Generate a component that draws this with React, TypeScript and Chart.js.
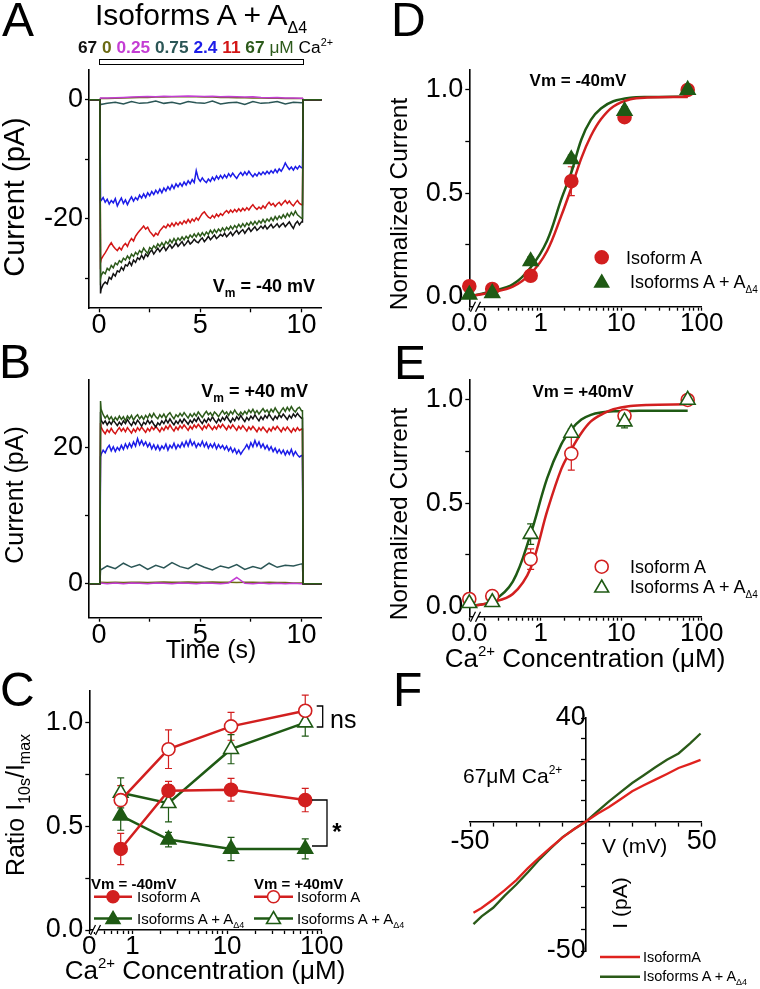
import React, { useEffect, useLayoutEffect, useRef } from 'react';
import { Chart, registerables } from 'chart.js';

Chart.register(...registerables);
const FONT = "'Liberation Sans', Arial, Helvetica, sans-serif";
Chart.defaults.font.family = FONT;
Chart.defaults.color = '#000';

// ---------------- Panels A & B: current traces ----------------
const TIME = [-0.5, 0.04, 0.07,
  0.1, 0.2, 0.3, 0.4, 0.5, 0.6, 0.7, 0.8, 0.9, 1.0,
  1.1, 1.2, 1.3, 1.4, 1.5, 1.6, 1.7, 1.8, 1.9, 2.0,
  2.1, 2.2, 2.3, 2.4, 2.5, 2.6, 2.7, 2.8, 2.9, 3.0,
  3.1, 3.2, 3.3, 3.4, 3.5, 3.6, 3.7, 3.8, 3.9, 4.0,
  4.1, 4.2, 4.3, 4.4, 4.5, 4.6, 4.7, 4.8, 4.9, 5.0,
  5.1, 5.2, 5.3, 5.4, 5.5, 5.6, 5.7, 5.8, 5.9, 6.0,
  6.1, 6.2, 6.3, 6.4, 6.5, 6.6, 6.7, 6.8, 6.9, 7.0,
  7.1, 7.2, 7.3, 7.4, 7.5, 7.6, 7.7, 7.8, 7.9, 8.0,
  8.1, 8.2, 8.3, 8.4, 8.5, 8.6, 8.7, 8.8, 8.9, 9.0,
  9.1, 9.2, 9.3, 9.4, 9.5, 9.6, 9.7, 9.8, 9.9, 10.0,
  10.05, 10.08, 11.0];
const TIME_FLAT = [-0.5, 0.04, 0.07, 0.4, 0.8, 1.2, 1.6, 2.0, 2.4, 2.8, 3.2, 3.6, 4.0, 4.4, 4.8,
  5.2, 5.6, 6.0, 6.4, 6.8, 7.2, 7.6, 8.0, 8.4, 8.8, 9.2, 9.6, 10.0, 10.05, 10.08, 11.0];

// Vm = -40 mV (pA)
const A_67_FIRST = [0, 0, -32.5,
  -31.8, -31.0, -30.6, -30.9, -29.8, -30.1, -29.2, -29.6, -28.7, -28.9,
  -28.1, -28.6, -27.7, -27.9, -27.2, -27.8, -26.9, -27.3, -26.5, -26.8,
  -26.1, -26.7, -25.9, -26.3, -25.6, -25.2, -25.9, -25.4, -24.9, -25.5,
  -25.0, -24.6, -25.3, -24.8, -24.3, -24.9, -24.5, -24.0, -24.6, -24.2,
  -23.8, -24.5, -24.1, -23.6, -24.2, -23.9, -23.4, -23.8, -24.0, -23.5,
  -23.2, -23.8, -23.4, -22.9, -23.5, -23.1, -22.7, -23.3, -23.0, -22.6,
  -22.9, -22.4, -23.0, -22.6, -22.2, -22.8, -22.3, -21.9, -22.5, -22.1,
  -21.8, -22.4, -21.9, -21.5, -22.1, -21.7, -21.3, -21.9, -21.6, -21.2,
  -21.6, -21.1, -21.7, -21.3, -20.9, -21.5, -21.2, -20.8, -21.4, -21.0,
  -20.7, -21.3, -20.9, -20.5, -21.1, -21.6, -20.8, -20.4, -21.0, -20.5,
  -20.5, 0, 0];
const A_67_LAST = [0, 0, -30.0,
  -29.5, -28.9, -29.2, -28.3, -28.6, -27.8, -28.2, -27.4, -27.7, -27.0,
  -27.3, -26.6, -26.9, -26.2, -26.7, -25.9, -26.3, -25.6, -26.0, -25.3,
  -25.7, -24.9, -25.4, -25.8, -24.8, -25.1, -24.5, -24.9, -24.2, -24.6,
  -24.0, -24.5, -23.8, -24.2, -23.5, -24.0, -23.3, -23.8, -23.2, -23.6,
  -23.0, -23.5, -22.9, -23.3, -22.7, -23.1, -22.5, -23.0, -22.4, -22.9,
  -22.3, -22.8, -22.2, -22.6, -21.9, -22.4, -21.8, -22.3, -21.7, -22.1,
  -21.5, -22.0, -21.4, -21.8, -21.2, -21.7, -21.1, -21.5, -20.9, -21.4,
  -20.8, -21.3, -20.7, -21.1, -20.5, -21.0, -20.4, -20.9, -20.3, -20.7,
  -20.1, -20.6, -20.0, -20.4, -19.8, -20.3, -19.6, -20.1, -19.5, -19.9,
  -19.3, -19.8, -19.1, -19.6, -18.9, -19.4, -18.7, -19.3, -19.6, -19.9,
  -19.9, 0, 0];
const A_11 = [0, 0, -27.3,
  -26.8, -26.2, -25.7, -25.1, -24.5, -24.0, -24.6, -25.0, -25.3, -24.8,
  -25.2, -24.5, -24.1, -24.6, -23.8, -23.3, -23.7, -22.9, -22.4, -22.0,
  -21.6, -21.2, -21.7, -21.4, -22.1, -22.5, -22.9, -22.4, -22.7, -22.0,
  -21.6, -21.2, -21.5, -20.9, -21.3, -20.7, -21.2, -20.6, -21.0, -20.5,
  -20.9, -20.3, -20.7, -20.1, -20.6, -20.0, -20.4, -19.8, -20.2, -19.6,
  -19.1, -18.8, -19.3, -19.7, -19.9, -19.4, -19.8, -19.2, -19.6, -19.1,
  -19.4, -18.9, -18.6, -19.0, -18.5, -18.9, -18.4, -18.8, -18.3, -18.7,
  -18.2, -18.6, -18.1, -18.5, -18.0, -17.6, -18.1, -18.4, -18.0, -18.3,
  -17.8, -18.2, -17.6, -17.2, -17.7, -17.4, -17.9, -17.5, -17.2, -17.7,
  -17.3, -16.9, -17.4, -17.0, -17.5, -17.8, -17.3, -16.9, -17.4, -17.6,
  -17.6, 0, 0];
const A_24 = [0, 0, -17.0,
  -16.9, -16.4, -17.2, -16.7, -17.5, -16.9, -17.3, -16.6, -17.8, -17.1,
  -16.5, -17.4, -16.8, -17.6, -16.9, -16.3, -17.0, -16.4, -16.8, -16.0,
  -16.5, -15.8, -16.4, -15.6, -16.1, -15.4, -15.9, -15.2, -15.7, -15.0,
  -15.6, -14.8, -15.3, -14.6, -15.1, -14.3, -14.9, -14.1, -14.6, -14.0,
  -14.5, -13.8, -14.3, -13.6, -14.1, -13.4, -13.9, -11.9, -13.2, -13.7,
  -13.1, -13.6, -13.9, -13.3, -13.7, -13.0, -13.5, -12.8, -13.3, -12.7,
  -13.2, -12.6, -13.1, -12.4, -12.9, -12.3, -12.8, -13.2, -12.6, -12.2,
  -12.7, -12.1, -12.6, -12.0, -12.5, -12.9, -12.4, -12.8, -12.2, -12.6,
  -12.1, -12.5, -12.0, -12.4, -11.9, -12.3, -11.7, -12.2, -11.6, -12.0,
  -11.4, -10.6, -11.2, -11.7, -11.3, -11.8, -11.2, -11.6, -11.1, -11.4,
  -11.4, 0, 0];
const A_075 = [0, 0, -0.8, -0.6, -0.4, -0.7, -0.3, -0.6, -0.5, -0.2, -0.6, -0.4, -0.7, -0.3, -0.5,
  -0.6, -0.2, -0.7, -0.5, -0.4, -0.8, -0.3, -0.6, -0.5, -0.3, -0.7, -0.4, -0.5, -0.5, 0, 0];
const A_025 = [0, 0, 0.3, 0.3, 0.35, 0.4, 0.45, 0.5, 0.55, 0.5, 0.6, 0.55, 0.6, 0.65, 0.6, 0.55,
  0.6, 0.5, 0.55, 0.5, 0.45, 0.5, 0.4, 0.35, 0.4, 0.3, 0.3, 0.25, 0.25, 0, 0];
const A_0 = [0, 0, 0.2, 0.2, 0.25, 0.3, 0.35, 0.4, 0.4, 0.45, 0.45, 0.5, 0.5, 0.5, 0.5, 0.45,
  0.45, 0.4, 0.4, 0.35, 0.35, 0.3, 0.3, 0.25, 0.25, 0.2, 0.2, 0.2, 0.2, 0, 0];

// Vm = +40 mV (pA)
const B_67_FIRST = [0, 0, 25.2,
  24.0, 23.5, 23.9, 23.3, 23.8, 23.4, 24.0, 23.6, 23.2, 23.7,
  23.3, 23.9, 23.5, 24.1, 23.6, 23.2, 23.8, 23.4, 24.0, 23.6,
  23.1, 23.7, 23.4, 24.0, 23.5, 23.9, 23.4, 23.0, 23.6, 23.3,
  23.9, 23.5, 24.1, 23.6, 24.2, 23.7, 23.3, 23.9, 23.5, 24.1,
  23.6, 24.2, 23.8, 23.4, 24.0, 23.6, 24.2, 23.8, 24.4, 23.9,
  23.5, 24.1, 23.7, 24.3, 23.9, 24.5, 24.0, 23.6, 24.2, 23.8,
  24.4, 24.0, 24.6, 24.1, 23.7, 24.3, 23.9, 24.5, 24.1, 24.7,
  24.2, 23.8, 24.4, 24.0, 24.6, 24.2, 24.8, 24.3, 23.9, 24.5,
  24.1, 24.7, 24.3, 24.9, 24.4, 24.0, 24.6, 24.2, 24.8, 24.4,
  24.9, 24.5, 24.1, 24.7, 24.3, 24.9, 24.5, 25.0, 24.6, 24.3,
  24.3, 0, 0];
const B_67_LAST = [0, 0, 26.8,
  25.6, 24.8, 24.3, 24.7, 24.1, 24.5, 23.9, 24.4, 24.0, 24.6,
  24.1, 24.5, 23.9, 24.6, 24.2, 24.7, 24.0, 24.5, 24.8, 24.2,
  24.6, 24.1, 24.7, 24.3, 24.9, 24.4, 25.0, 24.5, 24.2, 24.8,
  24.4, 24.9, 24.3, 24.8, 25.1, 24.6, 24.2, 24.8, 24.5, 25.0,
  24.6, 25.1, 24.7, 24.3, 24.9, 24.5, 25.0, 24.6, 25.2, 24.8,
  24.4, 24.9, 25.3, 24.8, 25.1, 24.6, 25.2, 24.9, 24.5, 25.0,
  25.4, 24.9, 25.2, 24.7, 25.3, 24.9, 25.5, 25.0, 24.7, 25.2,
  24.8, 25.3, 24.9, 25.5, 25.1, 25.6, 25.0, 25.4, 24.9, 25.3,
  25.7, 25.2, 25.5, 25.0, 25.6, 25.2, 25.8, 25.3, 24.9, 25.4,
  25.8, 25.3, 25.9, 25.4, 26.0, 25.5, 25.2, 25.7, 25.9, 25.4,
  25.4, 0, 0];
const B_11 = [0, 0, 23.6,
  23.0, 22.4, 22.0, 22.6, 22.2, 22.8, 22.3, 22.0, 22.5, 22.9,
  22.4, 22.8, 22.3, 22.9, 22.5, 22.1, 22.7, 22.3, 22.9, 22.5,
  23.0, 22.6, 22.2, 22.8, 22.4, 23.0, 22.6, 23.1, 22.7, 22.3,
  22.9, 22.5, 23.1, 22.7, 23.3, 22.8, 22.4, 23.0, 22.6, 23.2,
  22.8, 23.3, 22.9, 22.5, 23.1, 22.7, 23.3, 22.9, 23.4, 23.0,
  22.6, 23.2, 22.8, 23.4, 23.0, 22.6, 23.1, 22.7, 23.3, 22.9,
  23.4, 23.0, 22.6, 23.2, 22.8, 23.3, 22.9, 22.5, 23.1, 22.7,
  23.2, 22.8, 22.4, 23.0, 22.6, 23.1, 22.7, 22.3, 22.9, 22.5,
  23.0, 22.6, 22.2, 22.8, 22.4, 23.0, 22.6, 23.1, 22.7, 22.3,
  22.9, 22.5, 23.0, 22.6, 22.2, 22.8, 22.4, 22.9, 22.5, 22.7,
  22.7, 0, 0];
const B_24 = [0, 0, 18.6,
  19.0, 19.6, 19.2, 19.9, 20.3, 19.5, 20.1, 19.4, 20.0, 19.6,
  20.3, 19.7, 20.5, 19.9, 20.6, 20.0, 20.8, 20.2, 21.3, 20.4,
  21.0, 20.3, 20.8, 20.1, 20.6, 19.8, 20.4, 19.7, 20.3, 19.6,
  20.2, 19.8, 20.5, 19.6, 20.3, 19.9, 20.6, 19.8, 20.4, 20.0,
  20.7, 20.1, 20.9, 20.2, 21.1, 20.3, 20.8, 20.0, 20.6, 20.2,
  20.9, 20.1, 20.7, 19.9, 20.5, 20.0, 20.6, 19.8, 20.4, 19.9,
  20.3, 19.7, 20.2, 19.5, 20.0, 19.3, 19.8, 19.1, 19.6, 19.0,
  19.5, 19.9, 20.4, 19.8, 20.7, 20.1, 21.0, 20.2, 20.8, 20.0,
  20.5, 19.8, 20.3, 19.6, 20.1, 19.4, 19.9, 19.2, 19.7, 19.1,
  19.6, 18.9, 19.5, 19.0, 19.7, 18.8, 19.4, 18.9, 18.6, 18.8,
  18.8, 0, 0];
const B_075 = [0, 0, 2.0, 2.6, 2.2, 3.0, 2.4, 2.8, 2.1, 2.7, 2.3, 3.1, 2.5, 2.2, 2.9, 2.4, 2.0,
  2.6, 2.3, 2.8, 2.1, 2.5, 2.2, 3.0, 2.4, 2.7, 2.6, 2.9, 2.9, 0, 0];
const B_025 = [0, 0, 0.1, 0.0, 0.1, 0.0, 0.1, 0.05, 0.0, 0.1, 0.05, 0.0, 0.1, 0.05, 0.0, 0.1,
  0.05, 0.0, 0.1, 0.9, 0.05, 0.0, 0.1, 0.0, 0.05, 0.0, 0.05, 0.0, 0.0, 0, 0];
const B_0 = [0, 0, 0.2, 0.15, 0.2, 0.15, 0.2, 0.2, 0.15, 0.2, 0.25, 0.2, 0.2, 0.25, 0.2, 0.2,
  0.25, 0.2, 0.2, 0.15, 0.2, 0.2, 0.15, 0.2, 0.15, 0.15, 0.1, 0.1, 0.1, 0, 0];

// ---------------- Panel C: ratio I10s/Imax ----------------
const C_CONC = [0.75, 2.4, 11, 67];
const C_A_NEG = [0.39, 0.67, 0.675, 0.625];
const C_A_NEG_ERR = [0.075, 0.045, 0.055, 0.056];
const C_AD4_NEG = [0.55, 0.435, 0.39, 0.39];
const C_AD4_NEG_ERR = [0.07, 0.035, 0.056, 0.048];
const C_A_POS = [0.625, 0.87, 0.98, 1.055];
const C_A_POS_ERR = [0.07, 0.093, 0.067, 0.075];
const C_AD4_POS = [0.66, 0.61, 0.87, 0.998];
const C_AD4_POS_ERR = [0.072, 0.09, 0.07, 0.065];

// ---------------- Panels D & E: dose-response ----------------
const DE_CONC = [0, 0.25, 0.75, 2.4, 11, 67];
const D_A = [0.049, 0.036, 0.10, 0.558, 0.868, 1.0];
const D_A_ERR = [0, 0, 0.01, 0.07, 0.025, 0.01];
const D_AD4 = [0.008, 0.016, 0.17, 0.664, 0.898, 1.0];
const D_AD4_ERR = [0, 0, 0.02, 0.02, 0.02, 0.01];
const E_A = [0.036, 0.05, 0.229, 0.74, 0.923, 1.0];
const E_A_ERR = [0, 0, 0.05, 0.08, 0.02, 0];
const E_AD4 = [0.015, 0.02, 0.35, 0.84, 0.895, 1.0];
const E_AD4_ERR = [0, 0, 0.05, 0.02, 0.03, 0];

const FIT_CONC = [0.13, 0.25, 0.45, 0.75, 1.2, 1.8, 2.4, 3.2, 4.2, 5.6, 8, 13, 21, 67];
const D_FIT_A = [0.0, 0.02, 0.047, 0.11, 0.22, 0.39, 0.525, 0.67, 0.777, 0.858, 0.92, 0.955, 0.963, 0.966];
const D_FIT_AD4 = [0.0, 0.025, 0.058, 0.14, 0.27, 0.47, 0.6, 0.76, 0.855, 0.91, 0.945, 0.962, 0.966, 0.968];
const E_FIT_A = [0.0, 0.02, 0.06, 0.185, 0.46, 0.665, 0.76, 0.84, 0.896, 0.928, 0.955, 0.971, 0.976, 0.979];
const E_FIT_AD4 = [0.0, 0.025, 0.12, 0.35, 0.62, 0.785, 0.857, 0.905, 0.928, 0.939, 0.945, 0.947, 0.948, 0.948];

// ---------------- Panel F: I-V ----------------
const F_V = [-48.5, -45, -40, -35, -30, -25, -20, -15, -10, -5, 0, 5, 10, 15, 20, 25, 30, 35, 40, 45, 49.5];
const F_I_A = [-35.2, -33.4, -30.1, -26.5, -22.6, -18.0, -13.8, -9.9, -6.1, -2.9, 0, 3.0, 5.6, 8.6, 11.7, 14.0, 16.2, 18.4, 20.7, 22.3, 23.8];
const F_I_AD4 = [-39.6, -36.6, -33.3, -28.6, -24.3, -19.6, -14.6, -10.2, -6.0, -2.9, 0, 3.9, 7.8, 11.4, 14.9, 17.9, 21.0, 23.9, 26.3, 30.2, 34.0];

// ---------------- Axis ticks ----------------
const T_TICKS = [0, 2.5, 5, 7.5, 10];
const T_LABELS: [number, string][] = [[0, '0'], [5, '5'], [10, '10']];
const A_Y_TICKS = [-30, -20, -10, 0];
const A_Y_LABELS: [number, string][] = [[-20, '-20'], [0, '0']];
const B_Y_TICKS = [0, 10, 20];
const B_Y_LABELS: [number, string][] = [[0, '0'], [20, '20']];
const N_Y_TICKS = [0, 0.25, 0.5, 0.75, 1.0];
const N_Y_LABELS: [number, string][] = [[0, '0.0'], [0.5, '0.5'], [1.0, '1.0']];
const C_XMIN = -0.457;
const DE_XMIN = -0.887;
const DECADE_MINORS = [0.2, 0.3, 0.4, 0.5, 0.6, 0.7, 0.8, 0.9, 2, 3, 4, 5, 6, 7, 8, 9, 20, 30, 40, 50, 60, 70, 80, 90];
const F_X_TICKS = [-50, -40, -30, -20, -10, 0, 10, 20, 30, 40, 50];
const F_X_LABELS: [number, string][] = [[-50, '-50'], [50, '50']];
const F_Y_TICKS = [-50, -41.7, -33.3, -25, -16.7, -8.3, 0, 8, 16, 24, 32, 40];
const F_Y_LABELS: [number, string][] = [[-50, '-50'], [40, '40']];

// ---------------- Styling ----------------
const RED = '#d21f1f';
const GREEN = '#1f5a14';
const TR = { black: '#111111', olive: '#6b6a12', magenta: '#c43dd4', teal: '#2b5656', blue: '#1c1ce8', red: '#d31515', green: '#2c5a1a' };
const F_RED = '#e0221e';
const F_GREEN = '#2a5a18';

const AREA_A = { l: 89, r: 321.7, t: 70, b: 308.3 };
const AREA_B = { l: 89, r: 321.7, t: 379.3, b: 617.7 };
const AREA_C = { l: 89.3, r: 321.7, t: 691, b: 930 };
const AREA_D = { l: 469.3, r: 701.7, t: 69.3, b: 306.7 };
const AREA_E = { l: 469.3, r: 701.7, t: 379.3, b: 616.7 };
const AREA_F = { l: 470, r: 701.7, t: 718, b: 951 };

const logX = (c: number, min: number) => (c === 0 ? min : Math.log10(c));
const labelOf = (pairs: [number, string][], v: number) => {
  const p = pairs.find((q) => Math.abs(q[0] - v) < 1e-6);
  return p ? p[1] : '';
};

function sc(kind: 'x' | 'y', min: number, max: number, ticks: number[], labels: [number, string][], size = 27, extra: any = {}) {
  const isX = kind === 'x';
  return {
    type: 'linear', min, max, position: isX ? 'bottom' : 'left',
    afterBuildTicks: (s: any) => { s.ticks = ticks.map((v) => ({ value: v })); },
    afterFit: (s: any) => { if (isX) s.height = 30; else s.width = 60; },
    ticks: {
      autoSkip: false, maxRotation: 0, minRotation: 0, padding: isX ? 0 : 2, color: '#000',
      font: { size, lineHeight: 1 }, callback: (v: any) => labelOf(labels, Number(v)),
    },
    grid: { display: true, drawOnChartArea: false, drawTicks: true, tickLength: 4, tickWidth: 1.3, tickColor: '#000' },
    border: { display: true, color: '#000', width: 1.6 },
    ...extra,
  };
}

function base(area: any, scales: any, positioned = false) {
  return {
    responsive: false, animation: false, devicePixelRatio: 1, events: [],
    layout: {
      padding: positioned
        ? { left: area.l, right: 760 - area.r, top: area.t, bottom: 989 - area.b }
        : { left: area.l - 60, right: 760 - area.r, top: area.t, bottom: 989 - area.b - 30 },
    },
    plugins: { legend: { display: false }, tooltip: { enabled: false } },
    scales,
  };
}

const errorBars = {
  id: 'errorBars',
  beforeDatasetsDraw(chart: any) {
    const ctx = chart.ctx;
    const ys = chart.scales.y;
    chart.data.datasets.forEach((ds: any, i: number) => {
      if (!ds.errors) return;
      const meta = chart.getDatasetMeta(i);
      meta.data.forEach((pt: any, j: number) => {
        const e = ds.errors[j];
        if (!e) return;
        const v = ds.data[j].y;
        const y1 = ys.getPixelForValue(v + e);
        const y2 = ys.getPixelForValue(v - e);
        ctx.save();
        ctx.strokeStyle = ds.borderColor;
        ctx.lineWidth = 1.2;
        ctx.beginPath();
        ctx.moveTo(pt.x, y1); ctx.lineTo(pt.x, y2);
        ctx.moveTo(pt.x - 3.5, y1); ctx.lineTo(pt.x + 3.5, y1);
        ctx.moveTo(pt.x - 3.5, y2); ctx.lineTo(pt.x + 3.5, y2);
        ctx.stroke();
        ctx.restore();
      });
    });
  },
};

const decor = (fn: (ctx: CanvasRenderingContext2D) => void) => ({
  id: 'decor',
  afterDraw(chart: any) { const c = chart.ctx; c.save(); fn(c); c.restore(); },
});

function mk(ctx: any, kind: string, x: number, y: number, r: number, color: string, filled: boolean) {
  ctx.beginPath();
  if (kind === 'circle') ctx.arc(x, y, r, 0, Math.PI * 2);
  else { ctx.moveTo(x, y - r); ctx.lineTo(x + 0.866 * r, y + 0.5 * r); ctx.lineTo(x - 0.866 * r, y + 0.5 * r); ctx.closePath(); }
  ctx.fillStyle = filled ? color : '#fff';
  ctx.fill();
  ctx.lineWidth = 1.6; ctx.strokeStyle = color; ctx.stroke();
}
function poly(ctx: any, pts: number[][], color: string, w: number) {
  ctx.beginPath(); ctx.strokeStyle = color; ctx.lineWidth = w;
  pts.forEach((p, i) => (i ? ctx.lineTo(p[0], p[1]) : ctx.moveTo(p[0], p[1])));
  ctx.stroke();
}
function brk(ctx: any, x: number, y: number) {
  ctx.fillStyle = '#fff'; ctx.fillRect(x, y - 2, 5, 4);
  ctx.strokeStyle = '#000'; ctx.lineWidth = 1.3;
  [x, x + 5].forEach((px) => { ctx.beginPath(); ctx.moveTo(px - 2.5, y + 5); ctx.lineTo(px + 2.5, y - 5); ctx.stroke(); });
}

const trace = (t: number[], v: number[], c: string) => ({
  data: t.map((x, i) => ({ x, y: v[i] })), showLine: true, borderColor: c, borderWidth: 1.5,
  pointRadius: 0, clip: false, tension: 0,
});

function cfgTraces(area: any, yMin: number, yMax: number, yTicks: number[], yLabels: [number, string][], sets: any[]) {
  return {
    type: 'scatter',
    data: { datasets: sets },
    options: base(area, { x: sc('x', -0.5, 11, T_TICKS, T_LABELS, 27), y: sc('y', yMin, yMax, yTicks, yLabels, 27) }),
  };
}

const cfgA = () => cfgTraces(AREA_A, -35, 5, A_Y_TICKS, A_Y_LABELS, [
  trace(TIME, A_67_LAST, TR.green), trace(TIME, A_67_FIRST, TR.black), trace(TIME, A_11, TR.red),
  trace(TIME, A_24, TR.blue), trace(TIME_FLAT, A_075, TR.teal), trace(TIME_FLAT, A_025, TR.magenta),
  trace(TIME_FLAT, A_0, TR.olive),
]);
const cfgB = () => cfgTraces(AREA_B, -5, 30, B_Y_TICKS, B_Y_LABELS, [
  trace(TIME, B_67_LAST, TR.green), trace(TIME, B_67_FIRST, TR.black), trace(TIME, B_11, TR.red),
  trace(TIME, B_24, TR.blue), trace(TIME_FLAT, B_075, TR.teal), trace(TIME_FLAT, B_025, TR.magenta),
  trace(TIME_FLAT, B_0, TR.olive),
]);

const logTicks = (min: number) => [min, ...DECADE_MINORS.map((m) => Math.log10(m)).filter((v) => v > min), 0, 1, 2];

const ptSet = (conc: number[], vals: number[], errs: number[], min: number, color: string, style: string, filled: boolean, line: boolean) => ({
  data: conc.map((c, i) => ({ x: logX(c, min), y: vals[i] })),
  errors: errs, showLine: line, borderColor: color, borderWidth: 2.5,
  pointStyle: style, pointRadius: style === 'triangle' ? 8.5 : 6.5,
  pointBackgroundColor: filled ? color : '#fff', pointBorderColor: color, pointBorderWidth: 1.6,
  clip: false, tension: 0,
});
const fitSet = (vals: number[], color: string) => ({
  data: FIT_CONC.map((c, i) => ({ x: Math.log10(c), y: vals[i] })), showLine: true,
  borderColor: color, borderWidth: 2.5, pointRadius: 0, clip: false, tension: 0.35,
});

const cfgC = () => ({
  type: 'scatter',
  data: {
    datasets: [
      ptSet(C_CONC, C_A_POS, C_A_POS_ERR, C_XMIN, RED, 'circle', false, true),
      ptSet(C_CONC, C_A_NEG, C_A_NEG_ERR, C_XMIN, RED, 'circle', true, true),
      ptSet(C_CONC, C_AD4_POS, C_AD4_POS_ERR, C_XMIN, GREEN, 'triangle', false, true),
      ptSet(C_CONC, C_AD4_NEG, C_AD4_NEG_ERR, C_XMIN, GREEN, 'triangle', true, true),
    ],
  },
  options: base(AREA_C, {
    x: sc('x', C_XMIN, 2, logTicks(C_XMIN), [[C_XMIN, '0'], [0, '1'], [1, '10'], [2, '100']], 26),
    y: sc('y', 0, 1.15, N_Y_TICKS, N_Y_LABELS, 27),
  }),
  plugins: [errorBars, decor((ctx) => {
    brk(ctx, 93, AREA_C.b);
    poly(ctx, [[316.7, 706], [322.7, 706], [322.7, 727], [316.7, 727]], '#000', 1.3);
    poly(ctx, [[312, 800], [327, 800], [327, 846], [312, 846]], '#000', 1.3);
    poly(ctx, [[94, 896.7], [132, 896.7]], RED, 2.5); mk(ctx, 'circle', 113, 896.7, 6, RED, true);
    poly(ctx, [[94, 918.5], [132, 918.5]], GREEN, 2.5); mk(ctx, 'triangle', 113, 919.5, 8, GREEN, true);
    poly(ctx, [[254, 896.7], [293, 896.7]], RED, 2.5); mk(ctx, 'circle', 273.5, 896.7, 6, RED, false);
    poly(ctx, [[254, 918.5], [293, 918.5]], GREEN, 2.5); mk(ctx, 'triangle', 273.5, 919.5, 8, GREEN, false);
  })],
});

const cfgDE = (area: any, a: number[], aErr: number[], d: number[], dErr: number[], fa: number[], fd: number[], filled: boolean, legY: number[]) => ({
  type: 'scatter',
  data: {
    datasets: [
      ptSet(DE_CONC, d, dErr, DE_XMIN, GREEN, 'triangle', filled, false),
      ptSet(DE_CONC, a, aErr, DE_XMIN, RED, 'circle', filled, false),
      fitSet(fa, RED),
      fitSet(fd, GREEN),
    ],
  },
  options: base(area, {
    x: sc('x', DE_XMIN, 2, logTicks(DE_XMIN), [[DE_XMIN, '0.0'], [0, '1'], [1, '10'], [2, '100']], 26),
    y: sc('y', -0.05, 1.1, N_Y_TICKS, N_Y_LABELS, 27),
  }),
  plugins: [errorBars, decor((ctx) => {
    brk(ctx, 473, area.b);
    mk(ctx, 'circle', 601.7, legY[0], 6.5, RED, filled);
    mk(ctx, 'triangle', 601.7, legY[1], 8, GREEN, filled);
  })],
});
const cfgD = () => cfgDE(AREA_D, D_A, D_A_ERR, D_AD4, D_AD4_ERR, D_FIT_A, D_FIT_AD4, true, [257.3, 283]);
const cfgE = () => cfgDE(AREA_E, E_A, E_A_ERR, E_AD4, E_AD4_ERR, E_FIT_A, E_FIT_AD4, false, [566.7, 588]);

const cfgF = () => ({
  type: 'scatter',
  data: {
    datasets: [
      { data: F_V.map((x, i) => ({ x, y: F_I_A[i] })), showLine: true, borderColor: F_RED, borderWidth: 2.3, pointRadius: 0, clip: false },
      { data: F_V.map((x, i) => ({ x, y: F_I_AD4[i] })), showLine: true, borderColor: F_GREEN, borderWidth: 2.3, pointRadius: 0, clip: false },
    ],
  },
  options: base(AREA_F, {
    x: sc('x', -50, 50, F_X_TICKS, F_X_LABELS, 27, { position: { y: 0 }, afterFit: undefined, ticks: { autoSkip: false, maxRotation: 0, minRotation: 0, padding: 2, color: '#000', font: { size: 27, lineHeight: 1 }, callback: (v: any) => labelOf(F_X_LABELS, Number(v)) } }),
    y: sc('y', -50, 40, F_Y_TICKS, F_Y_LABELS, 27, { position: { x: 0 }, afterFit: undefined, ticks: { autoSkip: false, padding: 3, color: '#000', font: { size: 27, lineHeight: 1 }, callback: (v: any) => labelOf(F_Y_LABELS, Number(v)) } }),
  }, true),
  plugins: [decor((ctx) => {
    poly(ctx, [[600, 957], [640, 957]], F_RED, 2.5);
    poly(ctx, [[600, 976.7], [640, 976.7]], F_GREEN, 2.5);
  })],
});

// ---------------- Components ----------------
function Layer({ make }: { make: () => any }) {
  const ref = useRef<HTMLCanvasElement>(null);
  useEffect(() => {
    const chart = new Chart(ref.current as HTMLCanvasElement, make());
    return () => chart.destroy();
  }, []);
  return <canvas ref={ref} width={760} height={989} style={{ position: 'absolute', left: 0, top: 0, width: 760, height: 989 }} />;
}

const T = ({ x, y, s, a = 'l', b = false, c = '#000', children }: any) => (
  <div style={{
    position: 'absolute', left: x, top: y - 0.8465 * s, fontSize: s, lineHeight: `${s}px`,
    fontWeight: b ? 700 : 400, color: c, whiteSpace: 'nowrap', fontFamily: FONT,
    transform: a === 'c' ? 'translateX(-50%)' : a === 'r' ? 'translateX(-100%)' : undefined,
  }}>{children}</div>
);
// left-anchored text fitted to the width it spans in the reference
function FitT({ x, y, s, w, b = false, children }: any) {
  const ref = useRef<HTMLDivElement>(null);
  useLayoutEffect(() => {
    const el = ref.current;
    if (el && el.offsetWidth > 0) el.style.transform = `scaleX(${w / el.offsetWidth})`;
  }, []);
  return (
    <div ref={ref} style={{
      position: 'absolute', left: x, top: y - 0.8465 * s, fontSize: s, lineHeight: `${s}px`,
      fontWeight: b ? 700 : 400, whiteSpace: 'nowrap', fontFamily: FONT, transformOrigin: '0 0',
    }}>{children}</div>
  );
}
const R = ({ cx, cy, s, children }: any) => (
  <div style={{
    position: 'absolute', left: cx, top: cy, fontSize: s, lineHeight: `${s}px`, whiteSpace: 'nowrap',
    fontFamily: FONT, transform: 'translate(-50%, -50%) rotate(-90deg)',
  }}>{children}</div>
);
const Sub = ({ s, d, children }: any) => (
  <span style={{ fontSize: s, position: 'relative', top: d }}>{children}</span>
);
const C = ({ c, w = 700, children }: any) => <span style={{ color: c, fontWeight: w }}>{children}</span>;

export default function App() {
  return (
    <div style={{ position: 'absolute', left: 0, top: 0, width: 760, height: 989, overflow: 'hidden', background: '#fff', fontFamily: FONT }}>
      <Layer make={cfgA} />
      <Layer make={cfgB} />
      <Layer make={cfgC} />
      <Layer make={cfgD} />
      <Layer make={cfgE} />
      <Layer make={cfgF} />

      {/* panel letters */}
      <T x={2} y={37} s={48}>A</T>
      <T x={-1} y={379} s={48}>B</T>
      <T x={0} y={707} s={48}>C</T>
      <T x={391} y={37} s={48}>D</T>
      <T x={394} y={380} s={48}>E</T>
      <T x={393} y={707} s={48}>F</T>

      {/* Panel A header */}
      <T x={95} y={25} s={30}>Isoforms A + A<Sub s={16} d={8}>Δ4</Sub></T>
      <FitT x={78} y={53.5} s={16} w={255} b>
        <C c={TR.black}>67</C> <C c={TR.olive}>0</C> <C c={TR.magenta}>0.25</C> <C c={TR.teal}>0.75</C>{' '}
        <C c={TR.blue}>2.4</C> <C c={TR.red}>11</C> <C c={TR.green}>67</C> <C c={TR.green} w={400}>μM</C>{' '}
        <C c="#000" w={400}>Ca<Sub s={10} d={-7}>2+</Sub></C>
      </FitT>
      <div style={{ position: 'absolute', left: 99, top: 58.5, width: 205, height: 6.5, border: '1.5px solid #000', boxSizing: 'border-box' }} />
      <R cx={14} cy={197} s={29}>Current (pA)</R>
      <T x={315} y={292} s={18} b a="r">V<Sub s={12} d={5}>m</Sub> = -40 mV</T>

      {/* Panel B */}
      <R cx={14} cy={495} s={25}>Current (pA)</R>
      <T x={308} y={397} s={18} b a="r">V<Sub s={12} d={5}>m</Sub> = +40 mV</T>
      <T x={211} y={658} s={25} a="c">Time (s)</T>

      {/* Panel C */}
      <R cx={17} cy={805} s={25}>Ratio I<Sub s={16} d={6}>10s</Sub>/I<Sub s={16} d={6}>max</Sub></R>
      <T x={205} y={979} s={26} a="c">Ca<Sub s={15} d={-11}>2+</Sub> Concentration (μM)</T>
      <T x={330} y={728} s={25}>ns</T>
      <T x={337} y={840} s={24} b a="c">*</T>
      <T x={91} y={889} s={15} b>Vm = -40mV</T>
      <T x={254} y={889} s={15} b>Vm = +40mV</T>
      <T x={137} y={902} s={15}>Isoform A</T>
      <T x={137} y={923.5} s={15}>Isoforms A + A<Sub s={9} d={4}>Δ4</Sub></T>
      <T x={297} y={902} s={15}>Isoform A</T>
      <T x={297} y={923.5} s={15}>Isoforms A + A<Sub s={9} d={4}>Δ4</Sub></T>

      {/* Panel D */}
      <R cx={399} cy={204} s={24.5}>Normalized Current</R>
      <T x={578} y={86.5} s={17} b a="c">Vm = -40mV</T>
      <T x={626} y={264} s={18}>Isoform A</T>
      <T x={630} y={288.5} s={18}>Isoforms A + A<Sub s={10} d={5}>Δ4</Sub></T>

      {/* Panel E */}
      <R cx={399} cy={514} s={24.5}>Normalized Current</R>
      <T x={583} y={397} s={17} b a="c">Vm = +40mV</T>
      <T x={630} y={573} s={18}>Isoform A</T>
      <T x={630} y={593.5} s={18}>Isoforms A + A<Sub s={10} d={5}>Δ4</Sub></T>
      <T x={585} y={667} s={26} a="c">Ca<Sub s={15} d={-11}>2+</Sub> Concentration (μM)</T>

      {/* Panel F */}
      <T x={463} y={783} s={21}>67μM Ca<Sub s={12} d={-9}>2+</Sub></T>
      <T x={602} y={853} s={21}>V (mV)</T>
      <R cx={618.5} cy={903} s={21}>I (pA)</R>
      <T x={643} y={962} s={14.5}>IsoformA</T>
      <T x={643} y={981.5} s={14.5}>Isoforms A + A<Sub s={9} d={4}>Δ4</Sub></T>
    </div>
  );
}
